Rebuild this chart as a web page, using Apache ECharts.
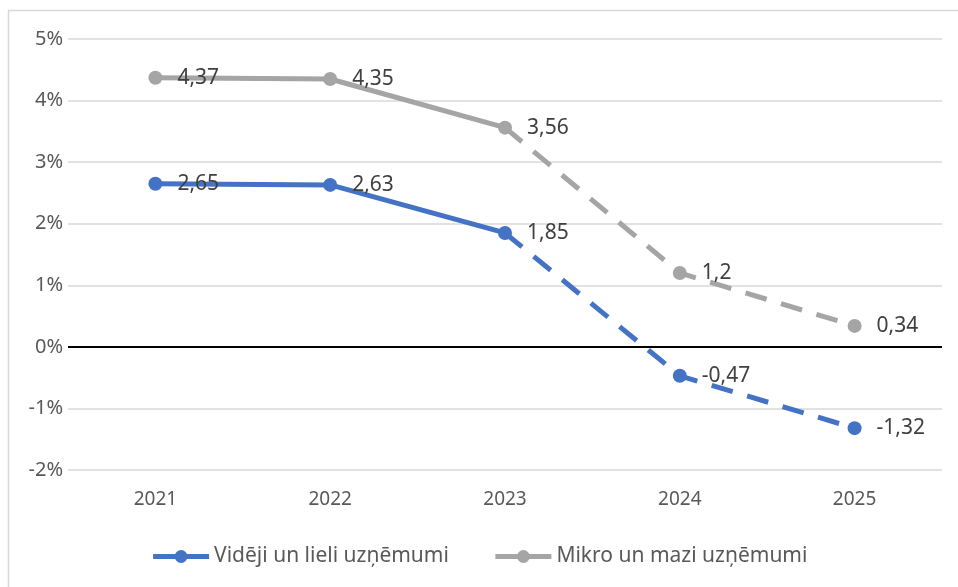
<!DOCTYPE html>
<html><head><meta charset="utf-8">
<script src="https://cdn.jsdelivr.net/npm/echarts@6/dist/echarts.min.js"></script>
<style>html,body{margin:0;padding:0;background:#fff}#c{width:958px;height:587px}</style>
</head><body><div id="c"></div>
<script>
const categories = ['2021','2022','2023','2024','2025'];
const seriesNames = ['Vidēji un lieli uzņēmumi','Mikro un mazi uzņēmumi'];
const largeValues = [2.65, 2.63, 1.85, -0.47, -1.32];
const smallValues = [4.37, 4.35, 3.56, 1.2, 0.34];
const actualCount = 3; // 2021-2023 solid, then forecast dashed
const yTicks = {min: -2, max: 5, interval: 1};

const FONT = 'Noto Sans';
const colors = ['#4472C4', '#A5A5A5'];

function fmt(v){ return String(v).replace('.', ','); }

function solidData(vals){
  return vals.map((v,i)=> i < actualCount ? v : null);
}
function dashedData(vals){
  return vals.map((v,i)=>{
    if (i < actualCount - 1) return null;
    if (i === actualCount - 1) return {value: v, symbol: 'none', label: {show: false}};
    return v;
  });
}
function makeSeries(name, vals, color, dashed, withZero){
  const s = {
    name: name, type: 'line',
    data: dashed ? dashedData(vals) : solidData(vals),
    symbol: 'circle', symbolSize: 14,
    itemStyle: {color: color},
    lineStyle: {color: color, width: 5, type: dashed ? [22, 15] : 'solid'},
    label: {show: true, position: 'right', distance: 15, color: '#404040',
            fontFamily: FONT, fontSize: 21, formatter: p => fmt(p.value)},
    connectNulls: false, z: dashed ? 3 : 4, animation: false
  };
  if (withZero) {
    s.markLine = {silent: true, symbol: ['none','none'], label: {show: false},
      lineStyle: {color: '#000', width: 2, type: 'solid'}, data: [{yAxis: 0}], z: 1};
  }
  return s;
}

const chart = echarts.init(document.getElementById('c'));
chart.setOption({
  animation: false,
  backgroundColor: '#fff',
  graphic: [{type: 'rect', shape: {x: 8.5, y: 10.5, width: 1000, height: 1000},
    style: {fill: 'none', stroke: '#D9D9D9', lineWidth: 1.5}, z: -10}],
  grid: {left: 68, right: 16, top: 39, bottom: 117},
  legend: {
    data: seriesNames, bottom: 15, left: 'center', itemWidth: 56, itemHeight: 16, itemGap: 44,
    lineStyle: {width: 5},
    textStyle: {fontFamily: FONT, fontSize: 21, color: '#595959'}
  },
  xAxis: {
    type: 'category', data: categories, boundaryGap: true,
    axisLine: {show: false, onZero: false}, axisTick: {show: false},
    axisLabel: {color: '#595959', fontFamily: FONT, fontSize: 19, margin: 20},
    splitLine: {show: false}
  },
  yAxis: {
    type: 'value', min: yTicks.min, max: yTicks.max, interval: yTicks.interval,
    axisLine: {show: false}, axisTick: {show: false},
    axisLabel: {color: '#595959', fontFamily: FONT, fontSize: 20, margin: 5, formatter: v => v + '%'},
    splitLine: {lineStyle: {color: '#D9D9D9', width: 1.5}}
  },
  series: [
    makeSeries(seriesNames[0], largeValues, colors[0], false, true),
    makeSeries(seriesNames[0], largeValues, colors[0], true, false),
    makeSeries(seriesNames[1], smallValues, colors[1], false, false),
    makeSeries(seriesNames[1], smallValues, colors[1], true, false)
  ]
});
</script></body></html>
